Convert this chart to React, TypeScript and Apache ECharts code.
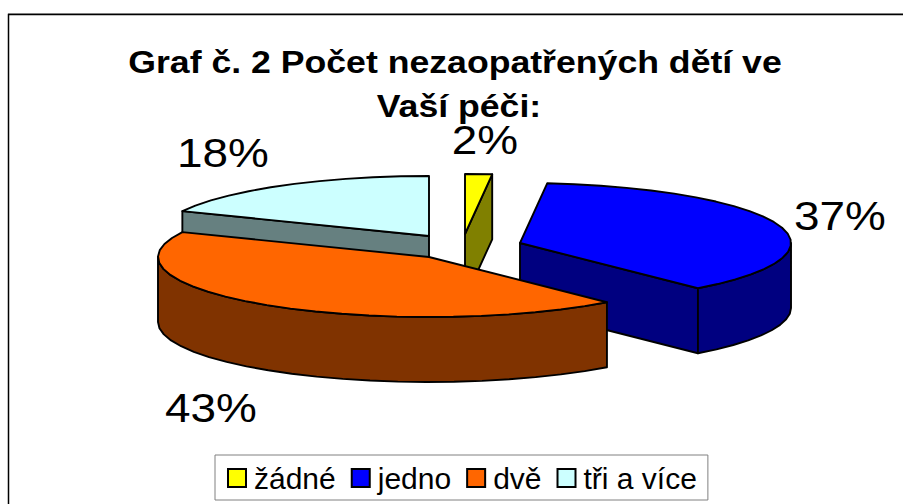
import React, { useEffect, useRef } from "react";
import * as echarts from "echarts";

const categories = ["žádné", "jedno", "dvě", "tři a více"];
const shares = [1.6, 37, 43.2, 18.2];
const titleLines = ["Graf č. 2 Počet nezaopatřených dětí ve", "Vaší péči:"];
const topColors = ["#FFFF00", "#0000FF", "#FF6600", "#CCFFFF"];
const wallColors = ["#808000", "#000080", "#803300", "#668080"];

const FONT = '"Liberation Sans", Arial, sans-serif';
const RX = 271;
const RY = 60;
const DEPTH = 65;
const apexes = [[465, 234], [520, 243], [429, 257], [429, 236]];
const labelAt = [[485, 140], [840, 216], [211, 408], [223, 153]];
const titleAt = [[455, 62], [459, 106]];
const zOrder = [2, 3, 4, 1];
const total = shares.reduce((a, b) => a + b, 0);
const STEP = (6 * Math.PI) / 180;

function App() {
  const ref = useRef<HTMLDivElement>(null);
  useEffect(() => {
    const chart = echarts.init(ref.current!, null, { renderer: "svg" });
    let cum = 0;
    const spans = shares.map((v) => {
      const s = (cum / total) * Math.PI * 2;
      cum += v;
      return [s, (cum / total) * Math.PI * 2];
    });
    const edge = { stroke: "#000", lineWidth: 1.9, lineJoin: "round" as const };
    const series = categories.map((name, i) => ({
      type: "custom",
      name,
      z: zOrder[i],
      coordinateSystem: "none",
      silent: true,
      itemStyle: { color: topColors[i] },
      data: [shares[i]],
      renderItem: () => {
        const [cx, cy] = apexes[i];
        const [a0, a1] = spans[i];
        const at = (a: number, d = 0) => [cx + RX * Math.sin(a), cy - RY * Math.cos(a) + d];
        const arc = (from: number, to: number, d = 0) => {
          const pts: number[][] = [];
          const n = Math.max(1, Math.ceil((to - from) / STEP));
          for (let k = 0; k <= n; k++) pts.push(at(from + ((to - from) * k) / n, d));
          return pts;
        };
        const wall = (points: number[][]) => ({
          type: "polygon",
          shape: { points },
          style: { fill: wallColors[i], ...edge },
        });
        const children: any[] = [];
        if (Math.sin(a0) < -1e-6) {
          children.push(wall([[cx, cy], at(a0), at(a0, DEPTH), [cx, cy + DEPTH]]));
        }
        if (Math.sin(a1) > 1e-6) {
          children.push(wall([[cx, cy], at(a1), at(a1, DEPTH), [cx, cy + DEPTH]]));
        }
        const w0 = Math.max(a0, Math.PI / 2);
        const w1 = Math.min(a1, (3 * Math.PI) / 2);
        if (w1 > w0) {
          children.push(wall([...arc(w0, w1), ...arc(w0, w1, DEPTH).reverse()]));
        }
        children.push({
          type: "polygon",
          shape: { points: [[cx, cy], ...arc(a0, a1)] },
          style: { fill: topColors[i], ...edge },
        });
        children.push({
          type: "text",
          x: labelAt[i][0],
          y: labelAt[i][1],
          scaleX: 1.12,
          style: {
            text: `${Math.round((shares[i] / total) * 100)}%`,
            font: `41px ${FONT}`,
            fill: "#000",
            align: "center",
            verticalAlign: "middle",
          },
        });
        return { type: "group", children };
      },
    }));
    chart.setOption({
      animation: false,
      backgroundColor: "#fff",
      legend: {
        data: categories,
        orient: "horizontal",
        left: 215,
        top: 455,
        padding: [8, 11, 7, 12],
        itemGap: 15,
        itemWidth: 18,
        itemHeight: 18,
        icon: "rect",
        borderColor: "#808080",
        borderWidth: 1,
        backgroundColor: "#fff",
        selectedMode: false,
        itemStyle: { borderColor: "#000", borderWidth: 2 },
        textStyle: {
          fontFamily: FONT,
          fontSize: 30,
          color: "#000",
          padding: [0, 0, 3, 3],
        },
      },
      graphic: [
        {
          type: "line",
          z: 0,
          silent: true,
          shape: { x1: 8, y1: 13.5, x2: 903, y2: 13.5 },
          style: { stroke: "#aaa", lineWidth: 1 },
        },
        {
          type: "rect",
          z: 0,
          silent: true,
          shape: { x: 8.5, y: 14.5, width: 1000, height: 600 },
          style: { fill: "none", stroke: "#000", lineWidth: 1.5 },
        },
        ...titleLines.map((text, i) => ({
          type: "text",
          z: 10,
          silent: true,
          x: titleAt[i][0],
          y: titleAt[i][1],
          scaleX: 1.15,
          style: {
            text,
            font: `bold 31px ${FONT}`,
            fill: "#000",
            align: "center",
            verticalAlign: "middle",
          },
        })),
      ],
      series,
    });
    return () => chart.dispose();
  }, []);
  return (
    <div
      ref={ref}
      style={{ position: "absolute", left: 0, top: 0, width: 903, height: 504 }}
    />
  );
}

export default App;
